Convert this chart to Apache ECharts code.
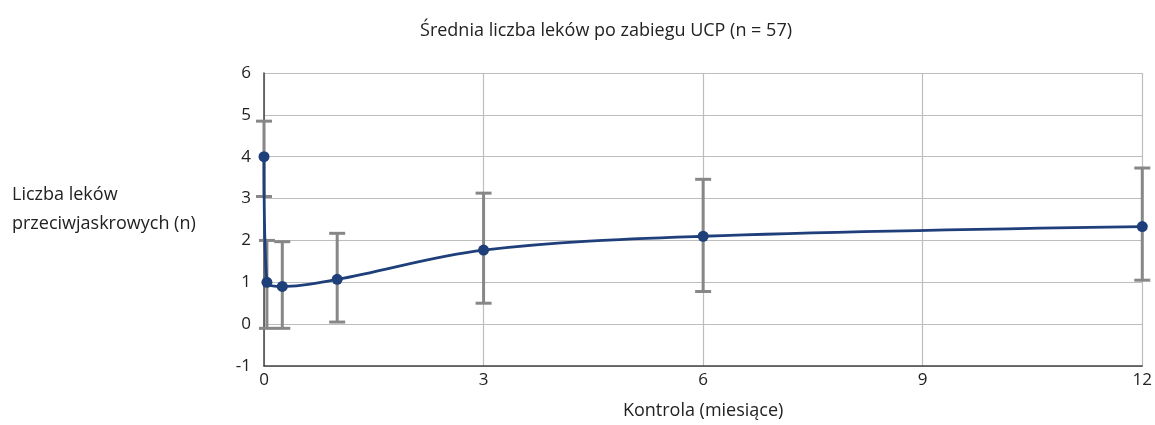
<!DOCTYPE html>
<html>
<head>
<meta charset="utf-8">
<script src="https://cdn.jsdelivr.net/npm/echarts@6/dist/echarts.min.js"></script>
<style>
    html, body { margin: 0; padding: 0; background: #fff; }
    #chart { width: 1155px; height: 425px; }
</style>
</head>
<body>
<div id="chart"></div>
<script>
// months after the procedure
const months = [0, 0.04, 0.25, 1, 3, 6, 12];
// mean number of drugs
const means = [4, 1, 0.9, 1.07, 1.77, 2.1, 2.33];
// error bar ends
const lows = [3.05, -0.1, -0.1, 0.05, 0.5, 0.78, 1.05];
const highs = [4.85, 2.0, 1.97, 2.17, 3.13, 3.46, 3.73];
const xTicks = [0, 3, 6, 9, 12];
const yTicks = [-1, 0, 1, 2, 3, 4, 5, 6];

const font = '"Open Sans", "Noto Sans", sans-serif';
const chart = echarts.init(document.getElementById('chart'));

const lineData = months.map((m, i) => [m, means[i]]);
const barData = months.map((m, i) => [m, lows[i], highs[i]]);

function renderErrorBar(params, api) {
    const top = api.coord([api.value(0), api.value(2)]);
    const bottom = api.coord([api.value(0), api.value(1)]);
    const half = 8;
    const style = { stroke: '#878787', lineWidth: 3 };
    return {
        type: 'group',
        children: [
            { type: 'line', shape: { x1: top[0], y1: top[1], x2: bottom[0], y2: bottom[1] }, style },
            { type: 'line', shape: { x1: top[0] - half, y1: top[1], x2: top[0] + half, y2: top[1] }, style },
            { type: 'line', shape: { x1: bottom[0] - half, y1: bottom[1], x2: bottom[0] + half, y2: bottom[1] }, style }
        ]
    };
}

const option = {
    animation: false,
    title: {
        text: 'Średnia liczba leków po zabiegu UCP (n = 57)',
        left: 601,
        top: 17,
        textAlign: 'center',
        textStyle: { fontFamily: font, fontSize: 18, fontWeight: 'normal', color: '#222' }
    },
    graphic: [{
        type: 'text',
        left: 12,
        top: 180,
        style: {
            text: 'Liczba leków\nprzeciwjaskrowych (n)',
            font: '18px ' + font,
            fill: '#222',
            lineHeight: 29
        }
    }],
    grid: { left: 264, right: 10, top: 73, bottom: 59 },
    xAxis: {
        type: 'value',
        min: 0,
        max: 12,
        interval: 3,
        name: 'Kontrola (miesiące)',
        nameLocation: 'middle',
        nameGap: 36,
        nameTextStyle: { fontFamily: font, fontSize: 18, color: '#222' },
        axisLine: { show: true, onZero: false, lineStyle: { color: '#444', width: 1.5 } },
        axisTick: { show: false },
        axisLabel: { fontFamily: font, fontSize: 17, color: '#222', margin: 6,
            formatter: v => xTicks.includes(v) ? String(v) : '' },
        splitLine: { show: true, lineStyle: { color: '#bdbdbd', width: 1.2 } }
    },
    yAxis: {
        type: 'value',
        min: -1,
        max: 6,
        interval: 1,
        axisLine: { show: true, onZero: false, lineStyle: { color: '#444', width: 1.5 } },
        axisTick: { show: false },
        axisLabel: { fontFamily: font, fontSize: 17, color: '#222', margin: 13,
            formatter: v => yTicks.includes(v) ? String(v) : '' },
        splitLine: { show: true, lineStyle: { color: '#bdbdbd', width: 1.2 } }
    },
    series: [
        {
            type: 'custom',
            renderItem: renderErrorBar,
            data: barData,
            z: 2
        },
        {
            type: 'line',
            data: lineData,
            smooth: 0.35,
            symbol: 'circle',
            symbolSize: 11,
            lineStyle: { color: '#1f3f7a', width: 2.8 },
            itemStyle: { color: '#1f3f7a' },
            z: 3
        }
    ]
};

chart.setOption(option);
</script>
</body>
</html>
